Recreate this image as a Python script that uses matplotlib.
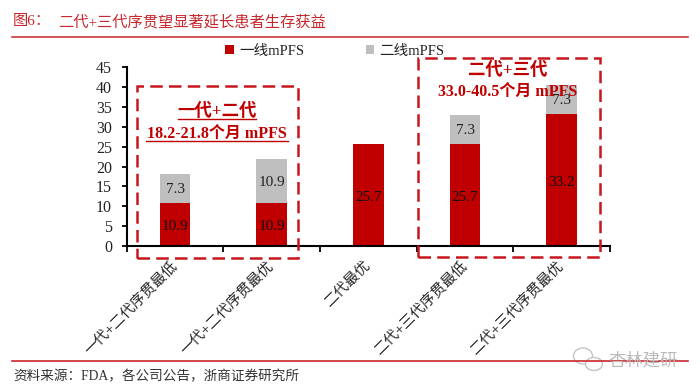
import matplotlib
matplotlib.use('Agg')
import matplotlib.pyplot as plt
from matplotlib.patches import Rectangle, Ellipse
from matplotlib.transforms import ScaledTranslation

plt.rcParams['font.family'] = ['Liberation Serif', 'Noto Sans CJK SC']

# Datos
categorias = ['一代+二代序贯最低', '一代+二代序贯最优', '二代最优', '二代+三代序贯最低', '二代+三代序贯最优']
primera = [10.9, 10.9, 25.7, 25.7, 33.2]
segunda = [7.3, 10.9, 0, 7.3, 7.3]
yticks = list(range(0, 50, 5))

ROJO = '#C00000'
GRIS = '#BFBFBF'
W, H = 700, 392

fig = plt.figure(figsize=(7, 3.92), dpi=100)
ax = fig.add_axes([126.7 / W, (H - 246) / H, (610 - 126.7) / W, (246 - 67.3) / H])

x = list(range(len(categorias)))
b1 = ax.bar(x, primera, width=0.32, color=ROJO, label='一线mPFS')
b2 = ax.bar(x, segunda, width=0.32, bottom=primera, color=GRIS, label='二线mPFS')
et1 = ax.bar_label(b1, labels=[f'{v:.1f}' for v in primera], label_type='center', fontsize=11, color='#111111')
et2 = ax.bar_label(b2, labels=[f'{v:.1f}' if v else '' for v in segunda], label_type='center', fontsize=11, color='#222222')
for t in et1:
    t.xyann = (0, -1.5)
for t in et2:
    t.xyann = (0, -0.7)

ax.set_xlim(-0.5, 4.5)
ax.set_ylim(0, 45)
ax.set_yticks(yticks)
ax.tick_params(axis='y', labelsize=11.5, width=1.3, length=3.5, pad=7, labelcolor='#222222')

# Marcas en los bordes de categoría, etiquetas en el centro
ax.set_xticks([-0.5, 0.5, 1.5, 2.5, 3.5, 4.5])
ax.set_xticklabels([])
ax.tick_params(axis='x', which='major', width=1.3, length=4)
ax.set_xticks(x, minor=True)
ax.set_xticklabels(categorias, minor=True, rotation=45, ha='right', va='top',
                   rotation_mode='anchor', fontsize=10.5, color='#222222')
ax.tick_params(axis='x', which='minor', length=0, pad=9.5)
desplazar = ScaledTranslation(-5 / 100, 0, fig.dpi_scale_trans)
for t in ax.get_xticklabels(minor=True):
    t.set_transform(t.get_transform() + desplazar)

for lado in ['top', 'right']:
    ax.spines[lado].set_visible(False)
for lado in ['left', 'bottom']:
    ax.spines[lado].set_linewidth(1.5)

# Cajas punteadas
for x0, x1, y0, y1 in [(-0.39, 1.27, -3.0, 40.4), (2.51, 4.40, -2.8, 47.3)]:
    ax.add_patch(Rectangle((x0, y0), x1 - x0, y1 - y0, fill=False, ec='#C8161D', lw=1.8,
                           ls=(0, (5, 2.5)), clip_on=False, zorder=5))

ax.text(0.43, 33.8, '一代+二代', ha='center', va='center', color=ROJO, fontsize=12.5, fontweight='bold')
ax.text(0.43, 28.1, '18.2-21.8个月 mPFS', ha='center', va='center', color=ROJO, fontsize=11.5, fontweight='bold')
ax.plot([0.03, 0.84], [31.9, 31.9], color=ROJO, lw=1, clip_on=False)
ax.plot([-0.30, 1.17], [26.5, 26.5], color=ROJO, lw=1, clip_on=False)
ax.text(3.44, 44.1, '二代+三代', ha='center', va='center', color=ROJO, fontsize=12.5, fontweight='bold', zorder=6)
ax.text(3.44, 38.9, '33.0-40.5个月 mPFS', ha='center', va='center', color=ROJO, fontsize=11.5, fontweight='bold', zorder=6)

ax.legend(loc='center', bbox_to_anchor=(335 / W, (H - 51) / H), bbox_transform=fig.transFigure,
          ncol=2, frameon=False, fontsize=10.5, handlelength=0.6, handleheight=0.6,
          handletextpad=0.35, columnspacing=4.2, labelcolor='#222222')

# Cabecera y pie
fig.text(13 / W, (H - 22) / H, '图6\uff1a', color='#C8282D', fontsize=11, va='center')
fig.text(58 / W, (H - 22) / H, '二代+三代序贯望显著延长患者生存获益', color='#C8282D', fontsize=11, va='center')
fig.add_artist(plt.Line2D([12 / W, 688 / W], [(H - 37) / H] * 2, color='#C8383C', lw=1.2))
fig.add_artist(plt.Line2D([12 / W, 688 / W], [(H - 361) / H] * 2, color='#C8282D', lw=1.2))
fig.text(13 / W, (H - 377) / H, '资料来源\uff1aFDA\uff0c各公司公告\uff0c浙商证券研究所', color='#333333', fontsize=9.8, va='center')

# Marca de agua
for cx, cy, ew, eh in [(583, 356, 19, 16), (594, 364, 17, 13)]:
    fig.add_artist(Ellipse((cx / W, (H - cy) / H), ew / W, eh / H, fc='white', ec='#C4C4C4', lw=1))
fig.text(608 / W, (H - 361) / H, '杏林建研', color='#BBBBBB', fontsize=12.5, va='center', zorder=6)

fig.savefig('out.png', dpi=100)
